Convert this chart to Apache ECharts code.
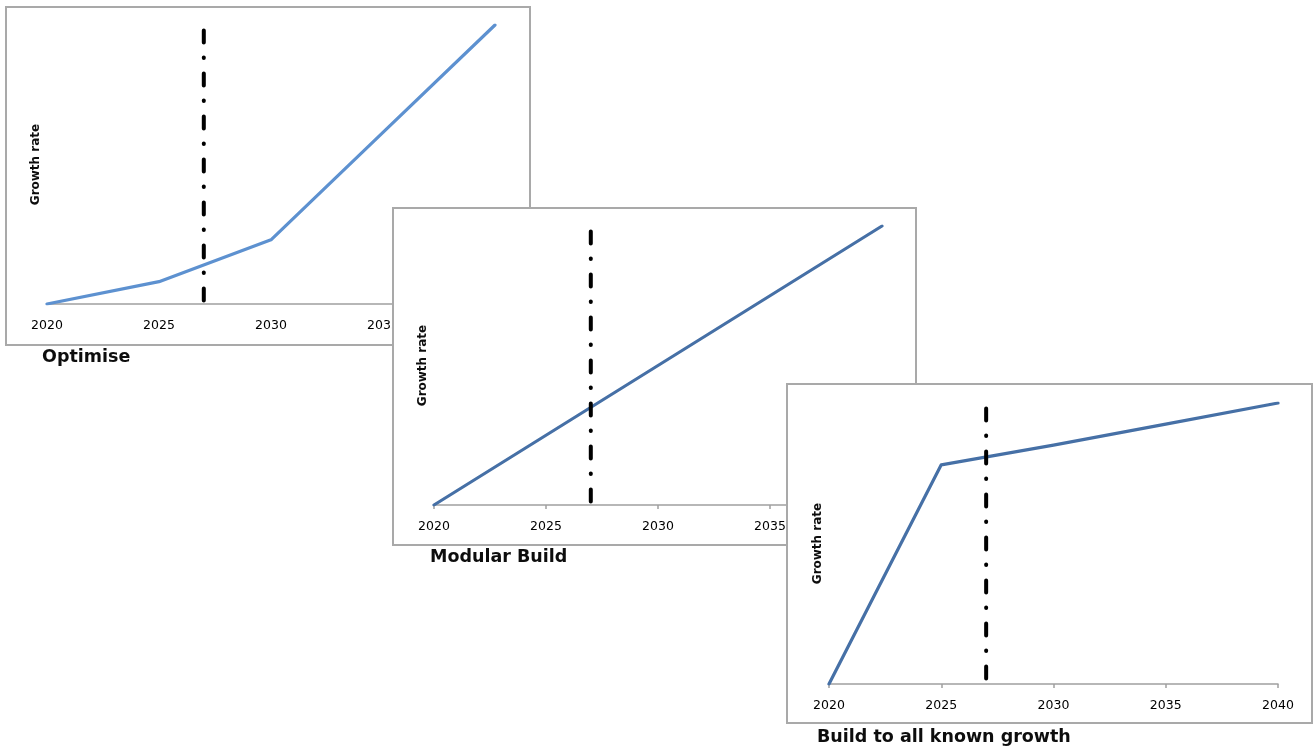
<!DOCTYPE html>
<html>
<head>
<meta charset="utf-8">
<title>Growth scenarios</title>
<script src="https://cdn.jsdelivr.net/npm/echarts@6/dist/echarts.min.js"></script>
<style>
  html, body { margin: 0; padding: 0; background: #fff; }
  #chart { width: 1314px; height: 749px; }
</style>
</head>
<body>
<div id="chart"></div>
<script>
// Years on the horizontal axis
const years = [2020, 2025, 2030, 2035, 2040];

// Growth path for each scenario (relative scale 0-100)
const optimise = [0, 8, 23, 61.5, 100];
const modularBuild = [0, 25, 50, 75, 100];
const buildAll = [0, 78, 85, 92.5, 100];

// Decision point marked with a dash-dot line
const markerYear = 2027;
const markerTop = 98;

const scenarioTitles = ['Optimise', 'Modular Build', 'Build to all known growth'];
const axisTitle = 'Growth rate';

const FONT = 'DejaVu Sans';

// Layout of the three overlapping panels
const panels = [
  { box: [6, 7, 524, 338],    grid: { left: 47,  top: 25,  width: 448, height: 279 }, title: [42, 358],  values: optimise,     color: '#5d91d0', ticks: false },
  { box: [393, 208, 523, 337], grid: { left: 434, top: 226, width: 448, height: 279 }, title: [430, 558], values: modularBuild, color: '#4670a6', ticks: true },
  { box: [787, 384, 525, 339], grid: { left: 829, top: 403, width: 449, height: 281 }, title: [817, 738], values: buildAll,     color: '#4670a6', ticks: true }
];

const grids = [], xAxes = [], yAxes = [], series = [], graphics = [];

panels.forEach((p, i) => {
  const zb = i * 10 + 1;
  graphics.push({
    type: 'rect', z: zb,
    shape: { x: p.box[0], y: p.box[1], width: p.box[2], height: p.box[3] },
    style: { fill: '#ffffff', stroke: '#a9a9a9', lineWidth: 2 }
  });
  graphics.push({
    type: 'text', z: zb, left: p.title[0], top: p.title[1] - 10,
    style: { text: scenarioTitles[i], fill: '#0d0d0d', font: 'bold 17.5px "' + FONT + '"' }
  });
  grids.push(Object.assign({ show: false }, p.grid));
  xAxes.push({
    gridIndex: i, type: 'value', min: 2020, max: 2040, interval: 5, z: zb + 1,
    axisLine: { show: true, lineStyle: { color: '#a0a0a0', width: 1.5 } },
    axisTick: { show: p.ticks, length: 4, lineStyle: { color: '#a0a0a0', width: 1.5 } },
    axisLabel: { color: '#000', fontFamily: FONT, fontSize: 12.5, margin: 15, formatter: v => String(v) },
    splitLine: { show: false }
  });
  yAxes.push({
    gridIndex: i, type: 'value', min: 0, max: 100, z: zb + 1,
    name: axisTitle, nameLocation: 'middle', nameRotate: 90, nameGap: 5,
    nameTextStyle: { color: '#0d0d0d', fontFamily: FONT, fontSize: 12, fontWeight: 'bold' },
    axisLine: { show: false }, axisTick: { show: false },
    axisLabel: { show: false }, splitLine: { show: false }
  });
  series.push({
    type: 'line', xAxisIndex: i, yAxisIndex: i, z: zb + 2,
    data: years.map((y, k) => [y, p.values[k]]),
    symbol: 'none', smooth: false,
    lineStyle: { color: p.color, width: 3.2, cap: 'round', join: 'round' }
  });
  series.push({
    type: 'line', xAxisIndex: i, yAxisIndex: i, z: zb + 3,
    data: [[markerYear, markerTop], [markerYear, 0]],
    symbol: 'none',
    lineStyle: { color: '#000', width: 4, type: [12, 15, 0.5, 15.5], cap: 'round' }
  });
});

const chart = echarts.init(document.getElementById('chart'), null, { renderer: 'canvas' });
chart.setOption({
  animation: false,
  backgroundColor: '#ffffff',
  grid: grids,
  xAxis: xAxes,
  yAxis: yAxes,
  series: series,
  graphic: { elements: graphics }
});
</script>
</body>
</html>
